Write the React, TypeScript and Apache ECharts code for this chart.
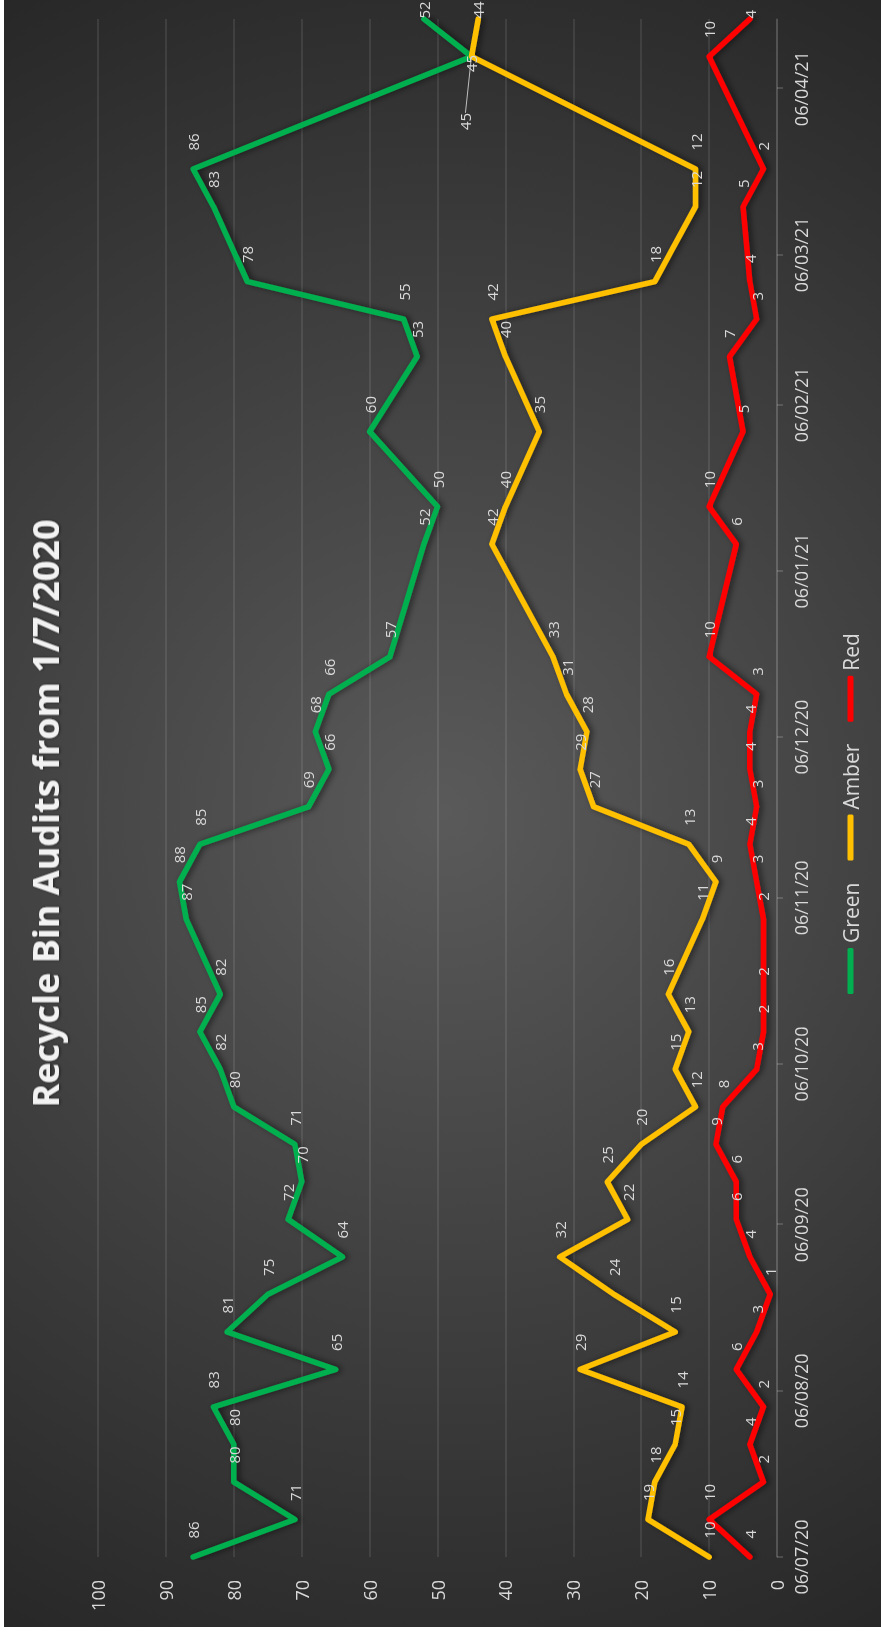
import React, { useEffect, useRef } from 'react';
import * as echarts from 'echarts';

// ---- data ----
const auditDates = [
  '2020-07-06', '2020-07-13', '2020-07-20', '2020-07-27', '2020-08-03', '2020-08-10', '2020-08-17', '2020-08-24', '2020-08-31',
  '2020-09-07', '2020-09-14', '2020-09-21', '2020-09-28', '2020-10-05', '2020-10-12', '2020-10-19', '2020-11-02', '2020-11-09',
  '2020-11-16', '2020-11-23', '2020-11-30', '2020-12-07', '2020-12-14', '2020-12-21', '2021-01-11', '2021-01-18', '2021-02-01',
  '2021-02-15', '2021-02-22', '2021-03-01', '2021-03-15', '2021-03-22', '2021-04-12', '2021-04-19',
];
const greenValues = [86, 71, 80, 80, 83, 65, 81, 75, 64, 72, 70, 71, 80, 82, 85, 82, 87, 88, 85, 69, 66, 68, 66, 57, 52, 50, 60, 53, 55, 78, 83, 86, 45, 52];
const amberValues = [10, 19, 18, 15, 14, 29, 15, 24, 32, 22, 25, 20, 12, 15, 13, 16, 11, 9, 13, 27, 29, 28, 31, 33, 42, 40, 35, 40, 42, 18, 12, 12, 45, 44];
const redValues = [4, 10, 2, 4, 2, 6, 3, 1, 4, 6, 6, 9, 8, 3, 2, 2, 2, 3, 4, 3, 4, 4, 3, 10, 6, 10, 5, 7, 3, 4, 5, 2, 10, 4];
const seriesNames = ['Green', 'Amber', 'Red'];
const axisStart = '2020-07-06';
const axisEnd = '2021-04-19';
const monthTickLabels = ['06/07/20', '06/08/20', '06/09/20', '06/10/20', '06/11/20', '06/12/20', '06/01/21', '06/02/21', '06/03/21', '06/04/21'];
const valueMin = 0;
const valueMax = 100;
const valueStep = 10;
const titleText = 'Recycle Bin Audits from 1/7/2020';

// ---- helpers ----
const pad = (n: number) => (n < 10 ? '0' + n : '' + n);
const parse = (s: string) => {
  const [y, m, d] = s.split('-').map(Number);
  return Date.UTC(y, m - 1, d);
};
const fmt = (t: number) => {
  const d = new Date(t);
  return pad(d.getUTCDate()) + '/' + pad(d.getUTCMonth() + 1) + '/' + String(d.getUTCFullYear()).slice(2);
};
const DAY = 86400000;
const dayCategories: string[] = [];
for (let t = parse(axisStart); t <= parse(axisEnd); t += DAY) dayCategories.push(fmt(t));
const auditIdx = auditDates.map((s) => dayCategories.indexOf(fmt(parse(s))));

const buildData = (vals: number[], overrides: Record<number, any> = {}) => {
  const out: any[] = dayCategories.map(() => null);
  auditIdx.forEach((ci, k) => {
    out[ci] = overrides[k] ? { value: vals[k], ...overrides[k] } : vals[k];
  });
  return out;
};

const lastK = auditDates.length - 1;
const crossK = auditDates.length - 2;
const lastOverride = { label: { distance: 0 } };

const FONT = 'Open Sans';
const LABEL_COLOR = '#d9d9d9';

const makeSeries = (name: string, color: string, data: any[], extra: any = {}) => ({
  name,
  type: 'line',
  data,
  connectNulls: true,
  symbol: 'circle',
  symbolSize: 1,
  showSymbol: true,
  itemStyle: { color },
  lineStyle: {
    color,
    width: 5.5,
    cap: 'round',
    join: 'round',
    shadowColor: 'rgba(0,0,0,0.55)',
    shadowBlur: 6,
    shadowOffsetY: 3,
  },
  label: {
    show: true,
    position: 'right',
    distance: 18,
    color: LABEL_COLOR,
    fontSize: 15,
    fontFamily: FONT,
  },
  emphasis: { disabled: true },
  ...extra,
});

export default function App() {
  const ref = useRef<HTMLDivElement>(null);
  useEffect(() => {
    if (!ref.current) return;
    const chart = echarts.init(ref.current, undefined, { renderer: 'svg' });
    const greenData = buildData(greenValues, {
      [lastK]: lastOverride,
      [crossK]: { label: { position: 'inside', offset: [-7, 0] } },
    });
    const amberData = buildData(amberValues, {
      [lastK]: lastOverride,
      [crossK]: { labelLine: { show: true, smooth: 0.3, lineStyle: { color: '#bfbfbf', width: 1 } } },
    });
    const redData = buildData(redValues, { [lastK]: lastOverride });
    const amberMovedIndex = auditIdx[crossK];
    chart.setOption({
      animation: false,
      backgroundColor: 'transparent',
      title: {
        text: titleText,
        left: 'center',
        top: 23,
        padding: 0,
        textStyle: {
          color: '#f2f2f2',
          fontSize: 36,
          fontWeight: 'bold',
          fontFamily: FONT,
          textShadowColor: 'rgba(0,0,0,0.5)',
          textShadowBlur: 3,
          textShadowOffsetY: 1,
        },
      },
      legend: {
        data: seriesNames,
        top: 831,
        left: 'center',
        icon: 'roundRect',
        itemWidth: 46,
        itemHeight: 6,
        itemGap: 22,
        textStyle: { color: LABEL_COLOR, fontSize: 21, fontFamily: FONT },
      },
      grid: { left: 70, right: 19, top: 94, bottom: 104, containLabel: false },
      xAxis: {
        type: 'category',
        data: dayCategories,
        boundaryGap: false,
        axisLine: { show: true, lineStyle: { color: 'rgba(255,255,255,0.14)', width: 1.5 } },
        axisTick: {
          show: true,
          interval: (_i: number, v: string) => monthTickLabels.includes(v),
          length: 6,
          lineStyle: { color: 'rgba(255,255,255,0.2)', width: 1.5 },
        },
        axisLabel: {
          interval: (_i: number, v: string) => monthTickLabels.includes(v),
          color: LABEL_COLOR,
          fontSize: 18,
          fontFamily: FONT,
          margin: 15,
        },
        splitLine: { show: false },
      },
      yAxis: {
        type: 'value',
        min: valueMin,
        max: valueMax,
        interval: valueStep,
        axisLine: { show: false },
        axisTick: { show: false },
        axisLabel: { color: LABEL_COLOR, fontSize: 18, fontFamily: FONT, margin: 23 },
        splitLine: { lineStyle: { color: 'rgba(255,255,255,0.12)', width: 1.5 } },
      },
      series: [
        makeSeries(seriesNames[0], '#00b050', greenData),
        makeSeries(seriesNames[1], '#ffc000', amberData, {
          labelLayout: (p: any) => (p.dataIndex === amberMovedIndex ? { dx: -92, dy: -6 } : undefined),
        }),
        makeSeries(seriesNames[2], '#ff0000', redData),
      ],
    });
    return () => chart.dispose();
  }, []);

  return (
    <div style={{ position: 'fixed', left: 4, top: 0, width: 877, height: 1627, overflow: 'hidden' }}>
      <div
        style={{
          position: 'absolute',
          left: 0,
          top: 0,
          width: 1627,
          height: 877,
          transformOrigin: '0 0',
          transform: 'translateY(1627px) rotate(-90deg)',
          background: 'radial-gradient(circle 950px at 50% 50%, #5a5a5a 0%, #262626 100%)',
        }}
      >
        <div ref={ref} style={{ width: 1627, height: 877 }} />
      </div>
    </div>
  );
}
